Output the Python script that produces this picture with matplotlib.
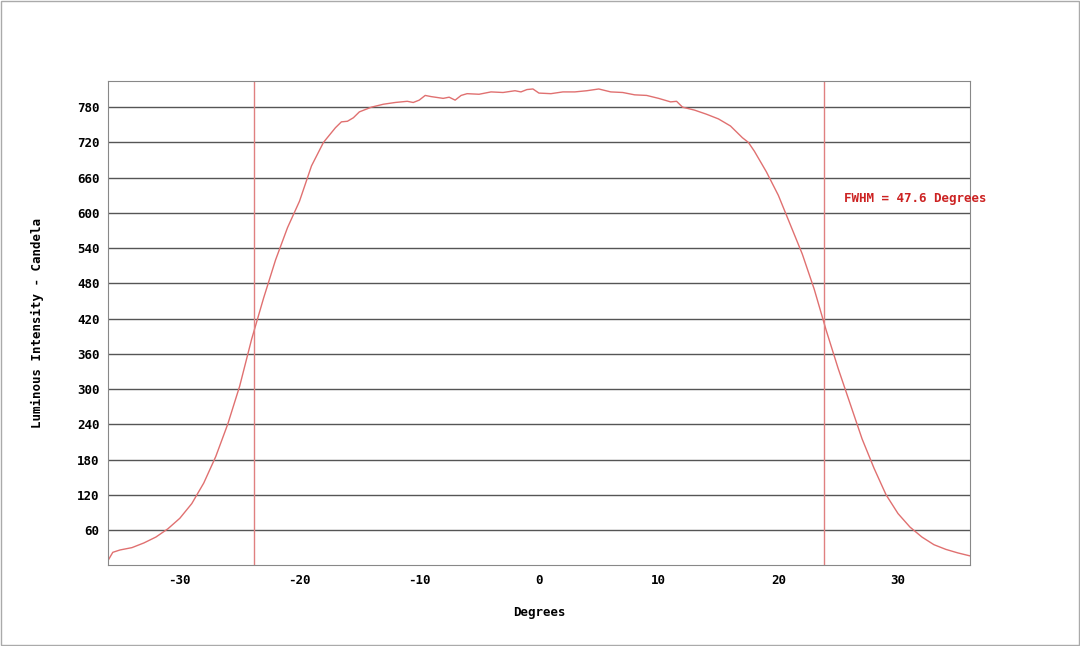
import matplotlib
matplotlib.use("Agg")
import matplotlib.pyplot as plt
import numpy as np

degrees = [-36, -35.6, -35, -34, -33, -32, -31, -30, -29, -28, -27, -26, -25, -24,
           -23, -22, -21, -20, -19, -18, -17, -16.5, -16, -15.5, -15, -14, -13, -12,
           -11, -10.5, -10, -9.5, -9, -8, -7.5, -7, -6.5, -6, -5, -4, -3, -2, -1.5,
           -1, -0.5, 0, 1, 2, 3, 4, 5, 6, 7, 8, 9, 10, 11, 11.5, 12, 13, 14, 15,
           16, 17, 17.5, 18, 19, 20, 21, 22, 23, 24, 25, 26, 27, 28, 29, 30, 31, 32,
           33, 34, 35, 36]
intensity = [8, 22, 26, 30, 38, 48, 62, 80, 105, 140, 185, 240, 305, 385,
             455, 520, 575, 620, 680, 720, 745, 755, 756, 762, 772, 780, 785, 788,
             790, 788, 792, 800, 798, 795, 797, 792, 800, 803, 802, 806, 805, 808, 806,
             810, 811, 804, 803, 806, 806, 808, 811, 806, 805, 801, 800, 795, 789, 790,
             780, 775, 768, 760, 748, 728, 720, 705, 670, 630, 580, 530, 470, 400, 335,
             275, 215, 165, 120, 88, 65, 48, 35, 27, 21, 16]

fwhm_lo, fwhm_hi = -23.8, 23.8

plt.rcParams['font.family'] = ['DejaVu Sans Mono']
plt.rcParams['axes.unicode_minus'] = False
fig = plt.figure(figsize=(10.8, 6.46), dpi=100)
ax = fig.add_axes([0.1, 0.125, 0.798, 0.75])

ax.plot(degrees, intensity, color='#e07070', lw=1)
ax.axvline(fwhm_lo, color='#e08080', lw=1)
ax.axvline(fwhm_hi, color='#e08080', lw=1)

ax.set_xlim(-36, 36)
ax.set_ylim(0, 825)
ax.set_yticks(np.arange(60, 781, 60))
ax.set_xticks([-30, -20, -10, 0, 10, 20, 30])
ax.yaxis.grid(True, color='#555555', lw=1)
ax.tick_params(length=0, labelsize=9, pad=6)
for lab in ax.get_xticklabels() + ax.get_yticklabels():
    lab.set_fontweight('bold')
for s in ax.spines.values():
    s.set_color('#888888')

ax.set_xlabel('Degrees', fontsize=9, fontweight='bold', labelpad=14)
ax.set_ylabel('Luminous Intensity - Candela', fontsize=9, fontweight='bold', labelpad=24)
ax.text(25.5, 625, 'FWHM = 47.6 Degrees', color='#cc2222', fontsize=9,
        fontweight='bold', va='center')

fig.patches.append(plt.Rectangle((0.001, 0.001), 0.998, 0.998, transform=fig.transFigure,
                                 fill=False, edgecolor='#aaaaaa', lw=1))
fig.savefig('out.png', dpi=100)
